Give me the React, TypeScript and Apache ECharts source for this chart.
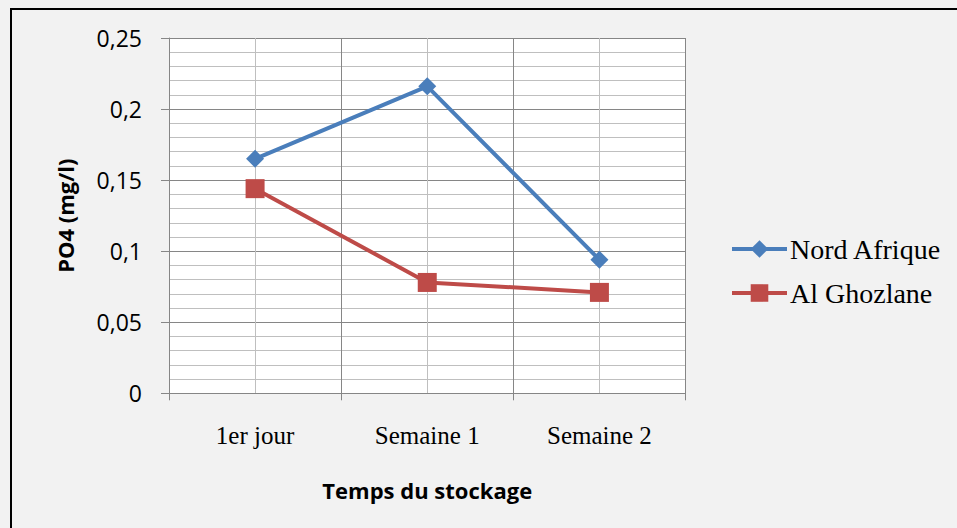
import React, { useEffect, useRef } from "react";
import * as echarts from "echarts";

const categories = ["1er jour", "Semaine 1", "Semaine 2"];
const nordAfrique = [0.165, 0.216, 0.094];
const alGhozlane = [0.144, 0.078, 0.071];
const yTicks = [0, 0.05, 0.1, 0.15, 0.2, 0.25];

export default function App() {
  const ref = useRef<HTMLDivElement>(null);
  useEffect(() => {
    document.body.style.margin = "0";
    const chart = echarts.init(ref.current!, null, { renderer: "svg" });
    const dark = "#868686";
    const light = "#bfbfbf";
    chart.setOption({
      animation: false,
      backgroundColor: "#f2f2f2",
      graphic: [
        { type: "line", shape: { x1: 11, y1: 8, x2: 11, y2: 528 }, style: { stroke: "#000", lineWidth: 2 } },
        { type: "line", shape: { x1: 10, y1: 9, x2: 957, y2: 9 }, style: { stroke: "#000", lineWidth: 2 } },
      ],
      grid: { left: 169, top: 38, right: 271.5, bottom: 134.7, show: true, backgroundColor: "#ffffff", borderWidth: 0 },
      legend: {
        orient: "vertical",
        left: 725,
        top: 230,
        itemWidth: 55,
        itemHeight: 22,
        itemGap: 16,
        lineStyle: { width: 4 },
        textStyle: { fontFamily: "Liberation Serif", fontSize: 28, lineHeight: 28, color: "#000", padding: [0, 0, 0, -2] },
        data: ["Nord Afrique", "Al Ghozlane"],
      },
      xAxis: [
        {
          type: "category",
          data: categories,
          boundaryGap: true,
          name: "Temps du stockage",
          nameLocation: "middle",
          nameGap: 86,
          nameTextStyle: { fontFamily: "Open Sans", fontWeight: "bold", fontSize: 22, color: "#000" },
          axisLine: { show: true, lineStyle: { color: dark, width: 1 } },
          axisTick: { show: true, length: 7, alignWithLabel: false, lineStyle: { color: dark } },
          axisLabel: { margin: 30, fontFamily: "Liberation Serif", fontSize: 25, color: "#000" },
          splitLine: { show: false },
        },
        {
          type: "value",
          min: 0,
          max: 3,
          interval: 0.5,
          show: true,
          position: "top",
          axisLine: { show: false },
          axisTick: { show: false },
          axisLabel: { show: false },
          splitLine: { show: true, lineStyle: { color: [dark, light], width: 1 } },
        },
      ],
      yAxis: {
        type: "value",
        min: 0,
        max: 0.25,
        interval: 0.05,
        name: "PO4 (mg/l)",
        nameLocation: "middle",
        nameGap: 93,
        nameRotate: 90,
        nameTextStyle: { fontFamily: "Open Sans", fontWeight: "bold", fontSize: 22, color: "#000" },
        axisLine: { show: true, lineStyle: { color: dark } },
        axisTick: { show: true, length: 8, inside: false, lineStyle: { color: dark } },
        axisLabel: {
          margin: 27,
          fontFamily: "Open Sans",
          fontSize: 23,
          color: "#000",
          formatter: (v: number) => {
            const t = yTicks.find((x) => Math.abs(x - v) < 1e-9);
            return (t !== undefined ? t : v).toString().replace(".", ",");
          },
        },
        splitLine: { show: true, lineStyle: { color: dark, width: 1 } },
        minorTick: { show: false, splitNumber: 5 },
        minorSplitLine: { show: true, lineStyle: { color: light, width: 1 } },
      },
      series: [
        {
          name: "Nord Afrique",
          type: "line",
          xAxisIndex: 0,
          data: nordAfrique,
          symbol: "diamond",
          symbolSize: 18,
          itemStyle: { color: "#4a7ebb" },
          lineStyle: { color: "#4a7ebb", width: 4 },
          z: 3,
        },
        {
          name: "Al Ghozlane",
          type: "line",
          xAxisIndex: 0,
          data: alGhozlane,
          symbol: "rect",
          symbolSize: 19,
          itemStyle: { color: "#be4b48" },
          lineStyle: { color: "#be4b48", width: 4 },
          z: 2,
        },
      ],
    });
    return () => chart.dispose();
  }, []);
  return <div ref={ref} style={{ width: 957, height: 528 }} />;
}
